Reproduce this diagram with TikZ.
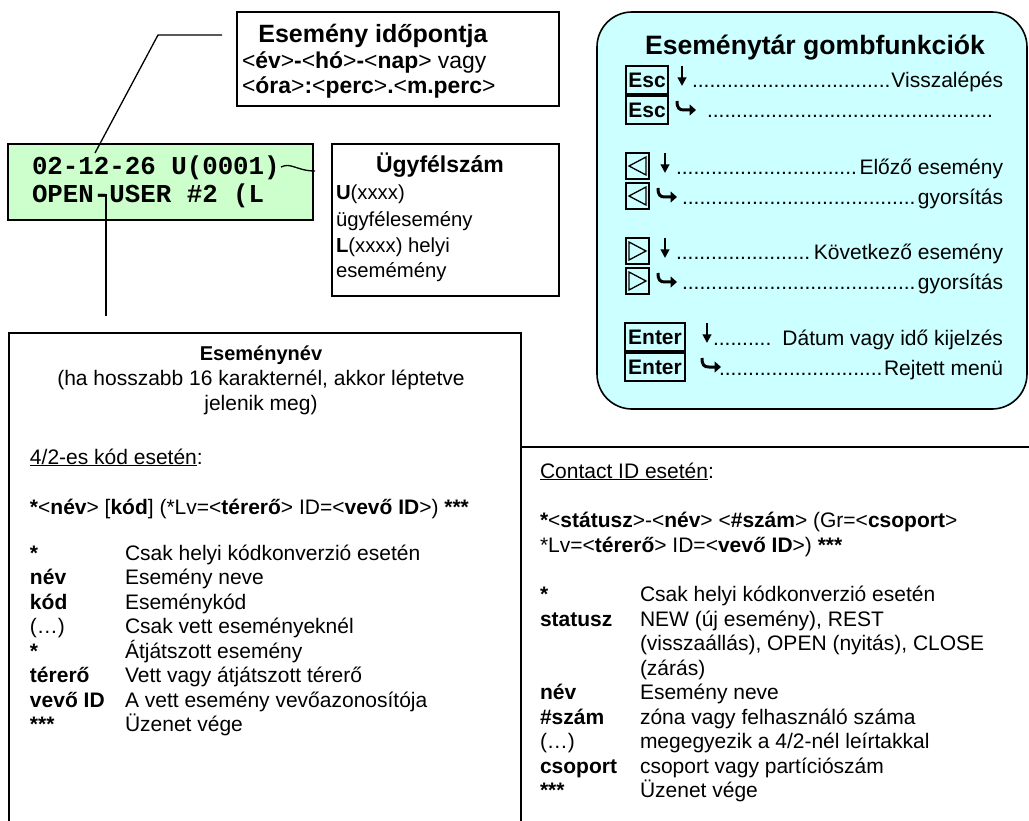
\documentclass[tikz,border=0pt]{standalone}
\usepackage{fontspec}
\setmainfont{Liberation Sans}
\newfontfamily\lcdfamily{Liberation Mono}
\usetikzlibrary{arrows.meta}

\definecolor{lcdgreen}{HTML}{CCFFCC}
\definecolor{panelcyan}{HTML}{CCFFFF}

\newcommand\bodyfont{\fontsize{21}{24.5}\selectfont}
\newcommand\timefont{\fontsize{22.9}{25}\selectfont}
\newcommand\custfont{\fontsize{20.3}{25}\selectfont}
\newcommand\paneltitlefont{\fontsize{26.6}{30}\selectfont\bfseries}
\newcommand\lcdfont{\lcdfamily\bfseries\fontsize{25.8}{28}\selectfont}

% down arrow and hooked arrow symbols of the key panel
\newcommand\downmark[2]{\draw[line width=1.9pt,-{Triangle[width=8.5pt,length=8.5pt]}] (#1,#2-22) -- (#1,#2-2);}
\newcommand\hookmark[2]{\draw[line width=3pt,-{Triangle[width=11pt,length=6.5pt]}] (#1,#2-17) .. controls (#1,#2-10) and (#1+2,#2-8) .. (#1+7,#2-8) -- (#1+19,#2-8);}
% dot leader row ending at a fixed right edge
\newcommand\dotrow[5]{\node[anchor=base west,font=\bodyfont] (#1) at (#2,#3) {\hbox to \dimexpr #4pt-#2pt\relax{\leaders\hbox{.}\hfill#5}};}

\tikzset{
  every node/.style={inner sep=0pt,outer sep=0pt},
  frame/.style={draw=black,line width=1.6pt},
  txt/.style={anchor=base west,font=\bodyfont},
  ctxt/.style={anchor=base,font=\bodyfont},
  keybox/.style={draw=black,line width=2.2pt,font=\bodyfont\bfseries,minimum height=28pt},
  leader/.style={line width=1.3pt},
}

\begin{document}
\begin{tikzpicture}[x=1pt,y=-1pt]
\useasboundingbox (0,0) rectangle (1029,821);
\clip (0,0) rectangle (1029,821);
\fill[white] (0,0) rectangle (1029,821);

% ---------- event time callout ----------
\node[frame,minimum width=322pt,minimum height=94pt] (timebox) at (398,59) {};
\node[anchor=base,font=\fontsize{25}{28}\selectfont\bfseries] (timehead) at (373,43) {Esemény időpontja};
\node[anchor=base west,font=\timefont] (timel1) at (242,69) {<\textbf{év}>\textbf{-}<\textbf{hó}>\textbf{-}<\textbf{nap}> vagy};
\node[anchor=base west,font=\timefont] (timel2) at (242,94) {<\textbf{óra}>\textbf{:}<\textbf{perc}>\textbf{.}<\textbf{m.perc}>};

% ---------- LCD display ----------
\node[frame,fill=lcdgreen,minimum width=305pt,minimum height=76pt] (lcd) at (160.5,182) {};
\node[anchor=base west,font=\lcdfont] (lcd1) at (32,175) {02-12-26 U(0001)};
\node[anchor=base west,font=\lcdfont] (lcd2) at (32,203) {OPEN-USER \#2 (L};

% ---------- customer number callout ----------
\node[frame,minimum width=227pt,minimum height=152pt] (custbox) at (445.5,220) {};
\node[anchor=base,font=\fontsize{23}{26}\selectfont\bfseries] (custhead) at (440,173) {Ügyfélszám};
\node[anchor=base west,font=\custfont] (cust1) at (336,200) {\textbf{U}(xxxx)};
\node[anchor=base west,font=\custfont] (cust2) at (336,227) {ügyfélesemény};
\node[anchor=base west,font=\custfont] (cust3) at (336,253) {\textbf{L}(xxxx) helyi};
\node[anchor=base west,font=\custfont] (cust4) at (336,278) {esemémény};

% ---------- leader lines ----------
\coordinate (timeend) at (222,35);
\coordinate (timebend) at (158,35);
\coordinate (datept) at (95,153);
\draw[leader] (timeend) -- (timebend) -- (datept);
\coordinate (custa) at (281,167);
\coordinate (custb) at (315,171);
\draw[leader] (custa) .. controls (291,162) and (297,171) .. (custb);
\coordinate (namea) at (106,194);
\coordinate (nameb) at (106,316);
\draw[leader] (namea) -- (nameb);

% ---------- event name box (4/2 code) ----------
\draw[frame] (9,333) rectangle (521,840);
\node[anchor=base,font=\fontsize{20}{24}\selectfont\bfseries] (namehead) at (261,360) {Eseménynév};
\node[ctxt] (namesub1) at (261,385) {(ha hosszabb 16 karakternél, akkor léptetve};
\node[ctxt] (namesub2) at (261,410) {jelenik meg)};
\node[txt] (fourhead) at (30,464) {\underline{4/2-es kód esetén}:};
\node[txt] (fourfmt) at (30,514) {\textbf{*}<\textbf{név}> [\textbf{kód}] (*Lv=<\textbf{térerő}> ID=<\textbf{vevő ID}>) \textbf{***}};
\foreach \yy/\kk/\dd [count=\i] in {
  560/{\textbf{*}}/{Csak helyi kódkonverzió esetén},
  584.5/{\textbf{név}}/{Esemény neve},
  609/{\textbf{kód}}/{Eseménykód},
  633.5/{(…)}/{Csak vett eseményeknél},
  658/{\textbf{*}}/{Átjátszott esemény},
  682.5/{\textbf{térerő}}/{Vett vagy átjátszott térerő},
  707/{\textbf{vevő ID}}/{A vett esemény vevőazonosítója},
  731.5/{\textbf{***}}/{Üzenet vége}}
{
  \node[txt] (fk\i) at (30,\yy) {\kk};
  \node[txt] (fd\i) at (125,\yy) {\dd};
}

% ---------- Contact ID box ----------
\draw[frame] (521,447) rectangle (1040,840);
\node[txt] (cidhead) at (540,478) {\underline{Contact ID esetén}:};
\node[txt] (cidfmt1) at (540,527) {\textbf{*}<\textbf{státusz}>-<\textbf{név}> <\textbf{\#szám}> (Gr=<\textbf{csoport}>};
\node[txt] (cidfmt2) at (540,552) {*Lv=<\textbf{térerő}> ID=<\textbf{vevő ID}>) \textbf{***}};
\foreach \yy/\kk/\dd [count=\i] in {
  601/{\textbf{*}}/{Csak helyi kódkonverzió esetén},
  626/{\textbf{statusz}}/{NEW (új esemény), REST},
  650.5/{}/{(visszaállás), OPEN (nyitás), CLOSE},
  675/{}/{(zárás)},
  699.5/{\textbf{név}}/{Esemény neve},
  724/{\textbf{\#szám}}/{zóna vagy felhasználó száma},
  748.5/{(…)}/{megegyezik a 4/2-nél leírtakkal},
  773/{\textbf{csoport}}/{csoport vagy partíciószám},
  797.5/{\textbf{***}}/{Üzenet vége}}
{
  \node[txt] (ck\i) at (540,\yy) {\kk};
  \node[txt] (cd\i) at (640,\yy) {\dd};
}

% ---------- key function panel ----------
\draw[frame,fill=panelcyan,rounded corners=35pt] (597,12) rectangle (1027,409);
\node[anchor=base,font=\paneltitlefont] (paneltitle) at (815,55) {Eseménytár gombfunkciók};

% Esc
\node[keybox,minimum width=42pt] (esc1) at (647,80) {Esc};
\node[keybox,minimum width=42pt] (esc2) at (647,110) {Esc};
\downmark{682}{88}
\hookmark{677}{118}
\dotrow{row1}{692}{88}{1003}{Visszalépés}
\dotrow{row2}{707}{118}{998}{}

% previous
\node[keybox,minimum width=23pt,minimum height=26pt] (prev1) at (637.5,166) {};
\node[keybox,minimum width=23pt,minimum height=26pt] (prev2) at (637.5,196) {};
\draw[line width=1.3pt,line join=miter] (629,166) -- (646,157) -- (646,175) -- cycle;
\draw[line width=1.3pt,line join=miter] (629,196) -- (646,187) -- (646,205) -- cycle;
\downmark{665}{175}
\hookmark{658}{205}
\dotrow{row3}{676}{175}{1003}{Előző esemény}
\dotrow{row4}{682}{205}{1003}{gyorsítás}

% next
\node[keybox,minimum width=23pt,minimum height=26pt] (next1) at (637.5,251) {};
\node[keybox,minimum width=23pt,minimum height=26pt] (next2) at (637.5,281) {};
\draw[line width=1.3pt,line join=miter] (646,251) -- (629,242) -- (629,260) -- cycle;
\draw[line width=1.3pt,line join=miter] (646,281) -- (629,272) -- (629,290) -- cycle;
\downmark{665}{260}
\hookmark{658}{290}
\dotrow{row5}{676}{260}{1003}{Következő esemény}
\dotrow{row6}{682}{290}{1003}{gyorsítás}

% Enter
\node[keybox,minimum width=60pt] (enter1) at (655,337) {Enter};
\node[keybox,minimum width=60pt] (enter2) at (655,367) {Enter};
\downmark{707}{345}
\hookmark{702}{375}
\dotrow{row7}{713}{345}{1003}{ Dátum vagy idő kijelzés}
\dotrow{row8}{719}{375}{1003}{Rejtett menü}

\end{tikzpicture}
\end{document}
